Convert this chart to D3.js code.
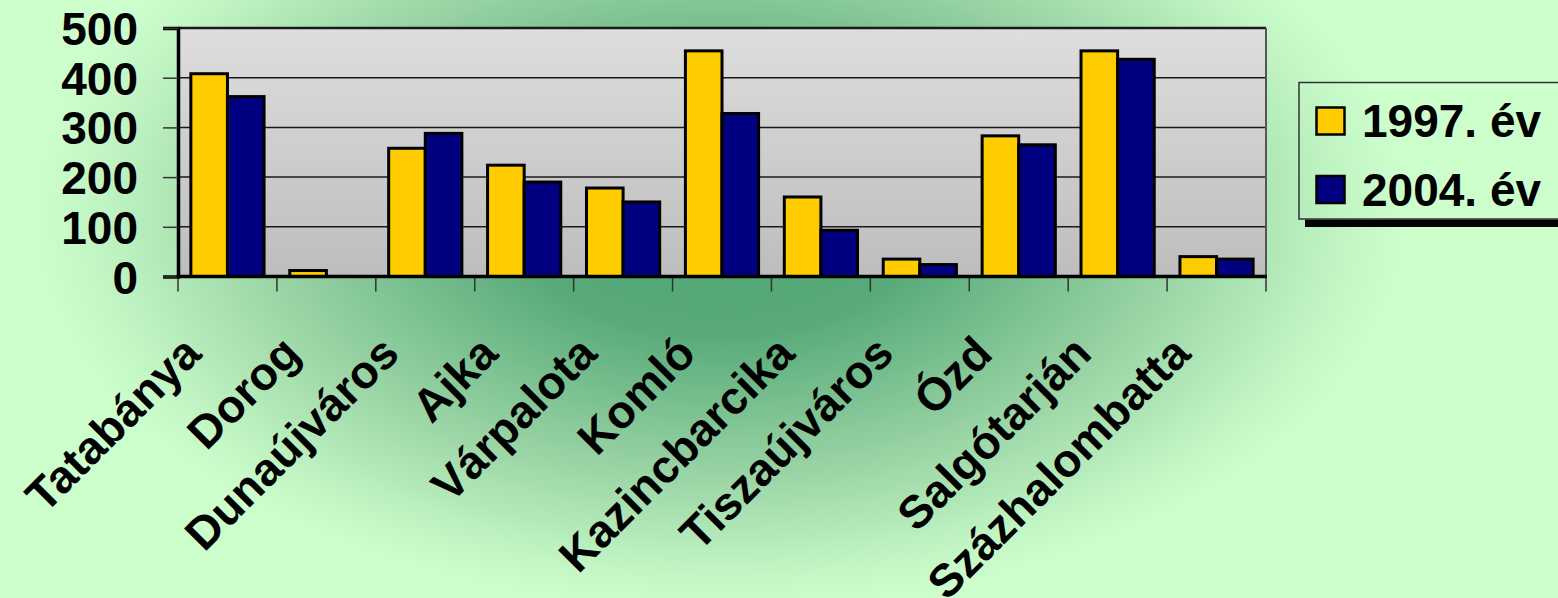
<!DOCTYPE html>
<html>
<head>
<meta charset="utf-8">
<script src="https://cdn.jsdelivr.net/npm/d3@7"></script>
<style>
  html, body { margin: 0; padding: 0; background: #ccffcc; }
  svg { display: block; }
  text { font-family: "Liberation Sans", Arial, sans-serif; font-weight: bold; fill: #000; }
</style>
</head>
<body>
<svg id="chart" width="1558" height="598"></svg>
<script>
const categories = ["Tatabánya", "Dorog", "Dunaújváros", "Ajka", "Várpalota", "Komló",
  "Kazincbarcika", "Tiszaújváros", "Ózd", "Salgótarján", "Százhalombatta"];
const seriesNames = ["1997. év", "2004. év"];
const values1997 = [408, 12, 258, 224, 178, 454, 160, 35, 283, 454, 40];
const values2004 = [362, 0, 288, 190, 150, 328, 93, 24, 265, 437, 35];
const yTicks = [0, 100, 200, 300, 400, 500];
const colors = ["#FFCC00", "#000080"];

const W = 1558, H = 598;
const plot = { left: 178, right: 1266, top: 28, bottom: 276.5 };

const svg = d3.select("#chart");
const defs = svg.append("defs");

// background radial gradient
const bg = defs.append("radialGradient").attr("id", "bg")
  .attr("gradientUnits", "userSpaceOnUse")
  .attr("cx", 0).attr("cy", 0).attr("r", 1)
  .attr("gradientTransform", "translate(720,215) scale(690,395)");
[[0, "#4fa373"], [0.3, "#58aa7a"], [0.65, "#98d3a4"], [0.92, "#c4f7c6"], [1, "#ccffcc"]]
  .forEach(([o, c]) => bg.append("stop").attr("offset", o).attr("stop-color", c));

const pg = defs.append("linearGradient").attr("id", "plotbg")
  .attr("x1", 0).attr("y1", 0).attr("x2", 0).attr("y2", 1);
pg.append("stop").attr("offset", 0).attr("stop-color", "#dedede");
pg.append("stop").attr("offset", 1).attr("stop-color", "#bdbdbd");

svg.append("rect").attr("width", W).attr("height", H).attr("fill", "url(#bg)");

const x0 = d3.scaleBand().domain(categories).range([plot.left, plot.right])
  .paddingInner(0.26).paddingOuter(0.13);
const x1 = d3.scaleBand().domain(seriesNames).range([0, x0.bandwidth()]);
const y = d3.scaleLinear().domain([0, 500]).range([plot.bottom, plot.top]);

// plot area
svg.append("rect").attr("x", plot.left).attr("y", plot.top)
  .attr("width", plot.right - plot.left).attr("height", plot.bottom - plot.top)
  .attr("fill", "url(#plotbg)");

// gridlines
svg.append("g").selectAll("line").data(yTicks.filter(d => d > 0)).join("line")
  .attr("x1", plot.left).attr("x2", plot.right)
  .attr("y1", d => y(d)).attr("y2", d => y(d))
  .attr("stroke", "#1a1a1a").attr("stroke-width", d => d === 500 ? 2.5 : 1.5);

// right border
svg.append("line").attr("x1", plot.right).attr("x2", plot.right)
  .attr("y1", plot.top).attr("y2", plot.bottom)
  .attr("stroke", "#555").attr("stroke-width", 2);

// bars
const seriesData = [values1997, values2004];
const gBars = svg.append("g");
categories.forEach((cat, i) => {
  seriesNames.forEach((s, j) => {
    const v = seriesData[j][i];
    if (v <= 0) return;
    gBars.append("rect")
      .attr("x", x0(cat) + x1(s))
      .attr("y", y(v))
      .attr("width", x1.bandwidth())
      .attr("height", y(0) - y(v))
      .attr("fill", colors[j])
      .attr("stroke", "#000").attr("stroke-width", 3);
  });
});

// y axis
const yAxis = d3.axisLeft(y).tickValues(yTicks).tickSize(15).tickPadding(25);
const gy = svg.append("g").attr("transform", `translate(${plot.left},0)`).call(yAxis);
gy.select(".domain").attr("stroke", "#000").attr("stroke-width", 3.5);
gy.selectAll(".tick line").attr("stroke", "#333").attr("stroke-width", 1.5);
gy.selectAll(".tick text").attr("font-size", 46)
  .attr("font-family", "'Liberation Sans', Arial, sans-serif").attr("font-weight", "bold")
  .attr("fill", "#000").attr("dy", "0.36em");

// x axis baseline and boundary ticks
const boundaries = d3.range(categories.length + 1).map(i => plot.left + i * (plot.right - plot.left) / categories.length);
svg.append("g").selectAll("line").data(boundaries).join("line")
  .attr("x1", d => d).attr("x2", d => d)
  .attr("y1", plot.bottom).attr("y2", plot.bottom + 15)
  .attr("stroke", "#333").attr("stroke-width", 1.5);
svg.append("line").attr("x1", plot.left - 1.5).attr("x2", plot.right + 1)
  .attr("y1", plot.bottom).attr("y2", plot.bottom)
  .attr("stroke", "#000").attr("stroke-width", 3.5);

// category labels
svg.append("g").selectAll("text").data(categories).join("text")
  .attr("transform", d => `translate(${x0(d) + x0.bandwidth() / 2 - 24},356) rotate(-45)`)
  .attr("text-anchor", "end")
  .attr("font-size", 46)
  .text(d => d);

// legend
svg.append("rect").attr("x", 1305).attr("y", 219.5).attr("width", 260).attr("height", 7.5)
  .attr("fill", "#000");
svg.append("rect").attr("x", 1299).attr("y", 82.5).attr("width", 280).attr("height", 136.5)
  .attr("fill", "none").attr("stroke", "#333").attr("stroke-width", 1.5);
const legY = [107.5, 176];
seriesNames.forEach((s, j) => {
  svg.append("rect").attr("x", 1316.5).attr("y", legY[j]).attr("width", 28).attr("height", 27)
    .attr("fill", colors[j]).attr("stroke", "#000").attr("stroke-width", 2.5);
  svg.append("text").attr("x", 1362).attr("y", legY[j] + 29.5)
    .attr("font-size", 46).text(s);
});
</script>
</body>
</html>
